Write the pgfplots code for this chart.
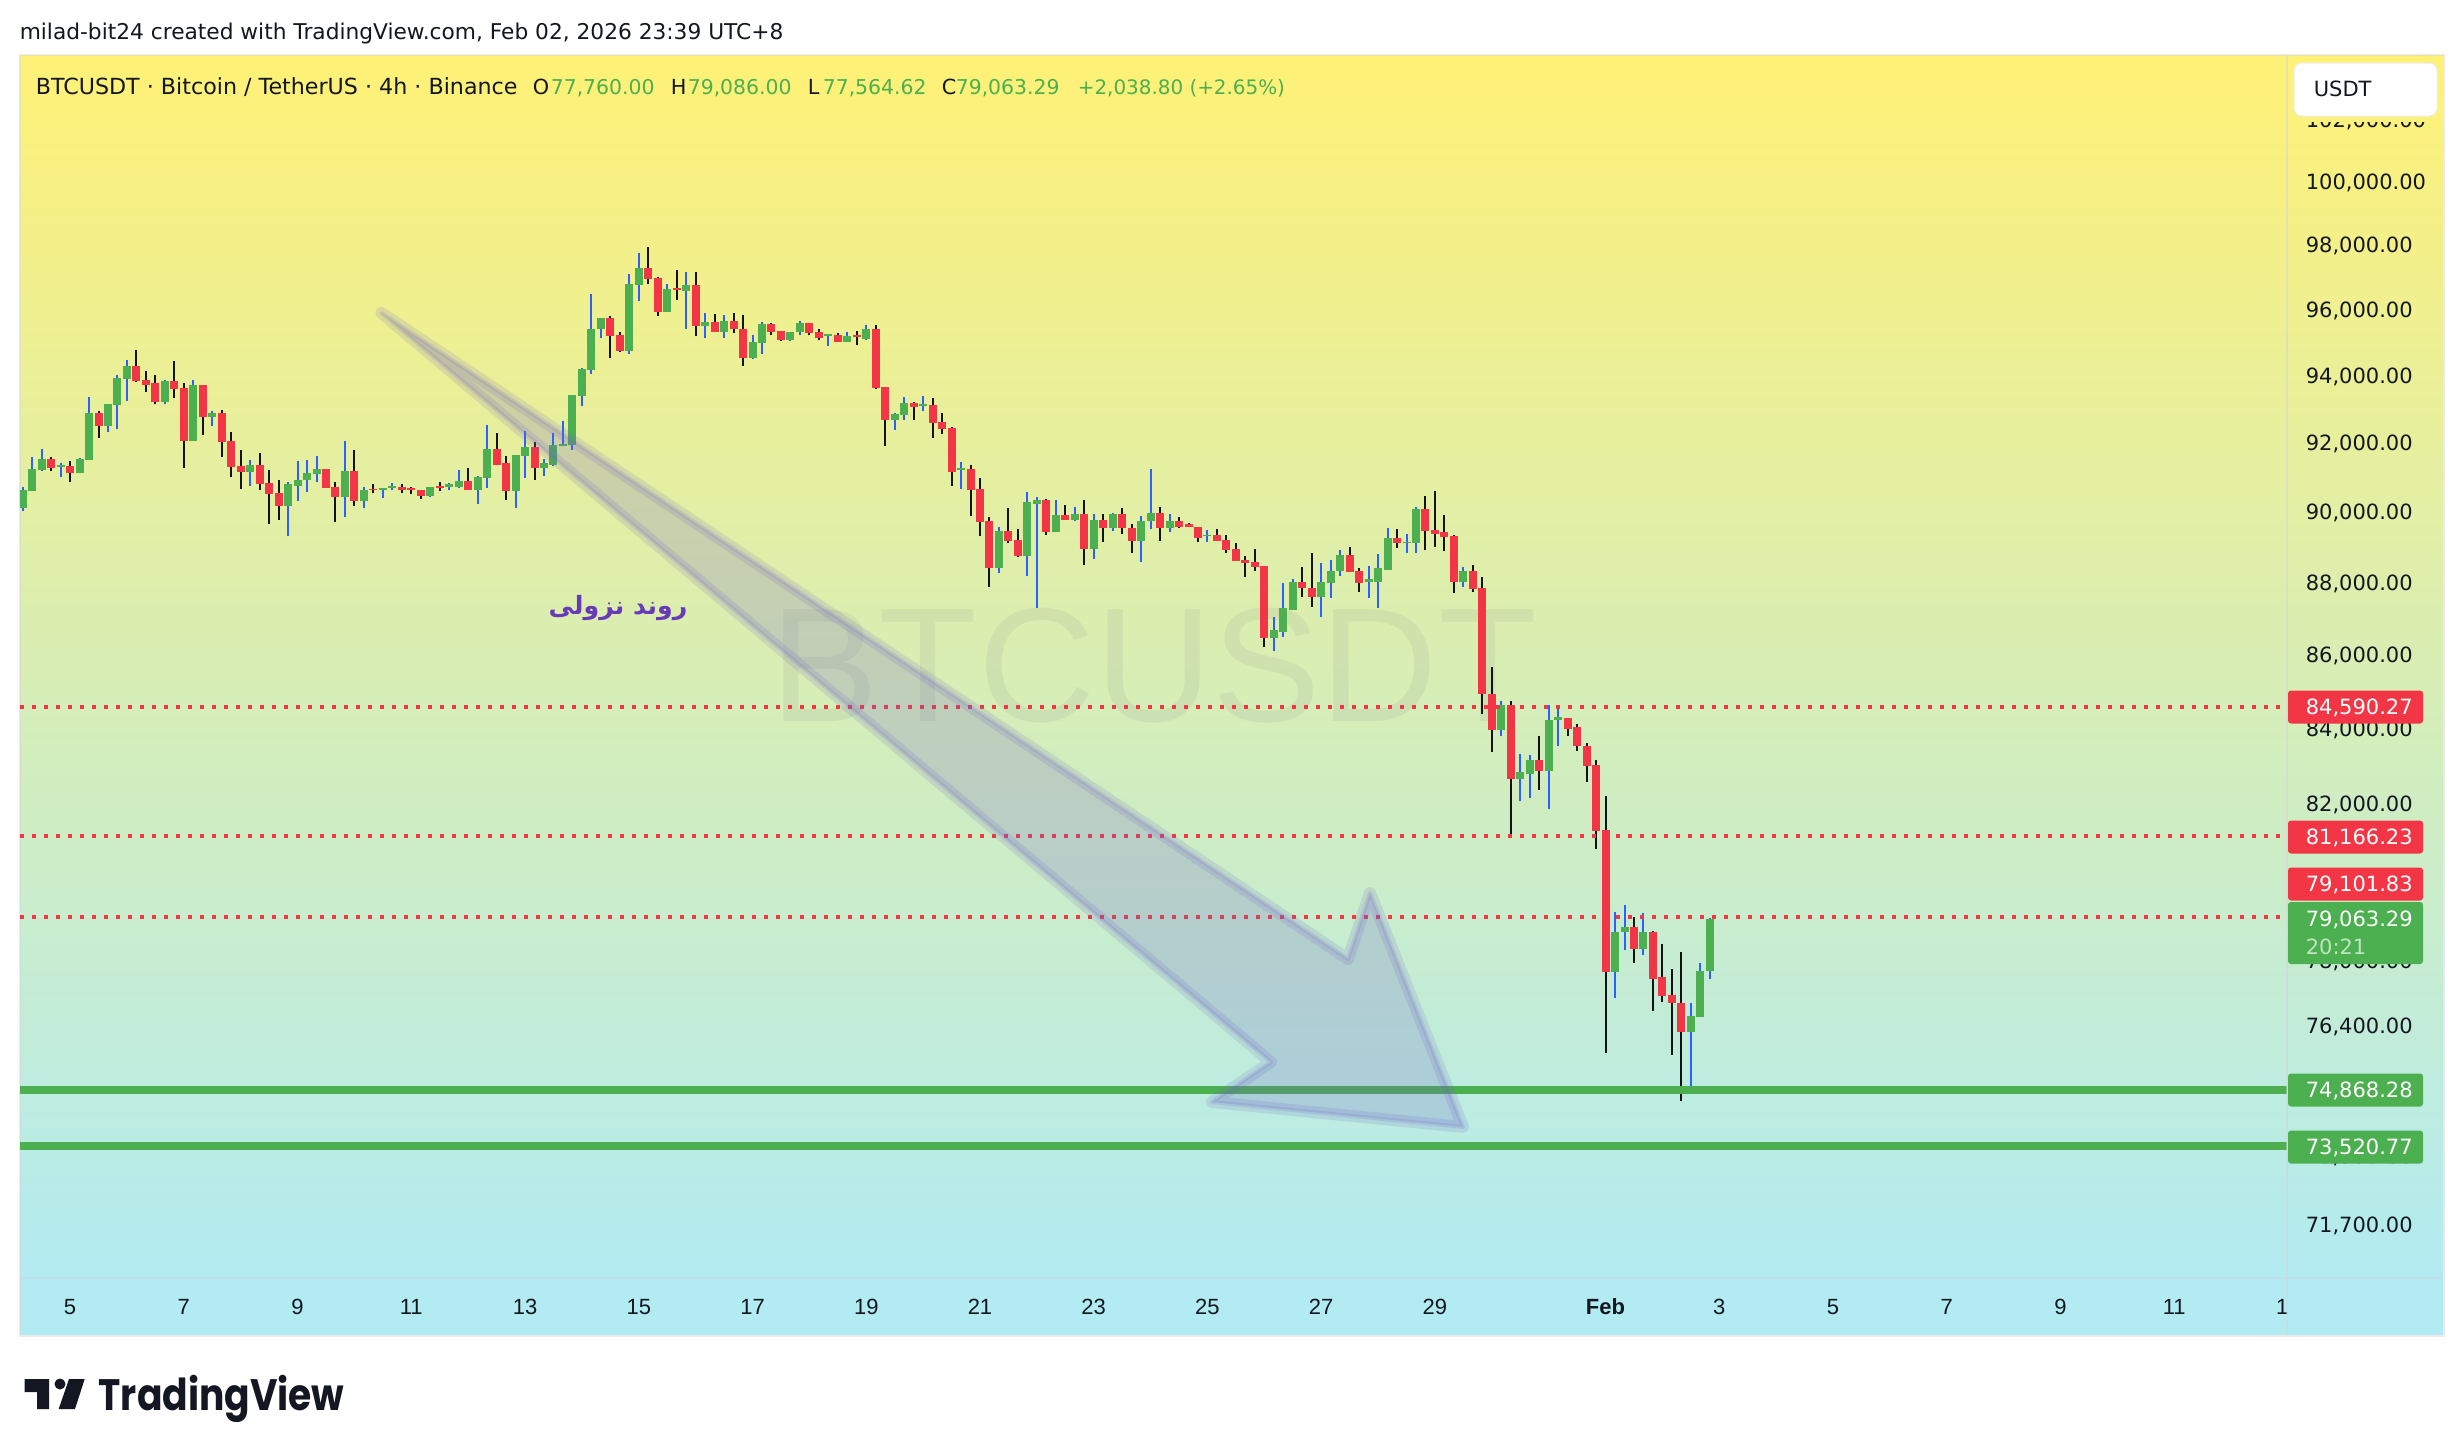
\documentclass[border=0pt]{standalone}
\usepackage{pgfplots}
\usepackage{pgfplotstable}
\usepackage{fontspec}
\pgfplotsset{compat=1.18}
\setmainfont{DejaVu Sans}
\newfontfamily\libfont{Liberation Sans}
\newfontfamily\popfont{Poppins}
\newfontfamily\arabicfont[Script=Arabic]{DejaVu Sans}
\TeXXeTstate=1
\definecolor{tvred}{HTML}{F23645}
\definecolor{tvgreen}{HTML}{4CAF50}
\definecolor{tvblue}{HTML}{2962FF}
\definecolor{tvblack}{HTML}{131313}
\definecolor{tvtext}{HTML}{131722}
\definecolor{gradtop}{HTML}{FFF176}
\definecolor{gradbot}{HTML}{B2EBF2}
\definecolor{arrowc}{RGB}{112,100,200}
\definecolor{wmark}{RGB}{120,123,134}
\definecolor{sep}{HTML}{D1D4DC}
\definecolor{arab}{HTML}{673AB7}
\definecolor{patch}{RGB}{251,241,124}
\pgfplotstableread{
i O H L C
0 90110 90730 90030 90630
1 90600 91610 90600 91240
2 91210 91820 91180 91530
4 91320 91410 91030 91380
6 91120 91580 91120 91530
7 91500 93380 91500 92880
9 92500 93150 92320 93150
10 93120 94010 92410 93950
11 93920 94490 93260 94310
15 93230 93890 93170 93830
18 92080 93860 92080 93740
20 92790 92940 92500 92880
24 91150 91500 90770 91380
28 90190 90860 89310 90800
29 90770 91470 90310 90940
30 90920 91500 90570 91120
31 91090 91640 90860 91240
34 90450 92080 89850 91180
36 90310 90740 90110 90650
38 90650 90710 90420 90710
39 90710 90830 90630 90770
43 90480 90740 90450 90740
45 90740 90830 90630 90800
46 90740 91210 90710 90890
48 90650 91060 90250 91030
49 91000 92530 90710 91820
52 90600 91670 90130 91670
53 91640 92350 91000 91880
55 91270 91550 91060 91410
56 91380 92290 91350 91940
57 91910 92670 91910 91990
58 91960 93440 91790 93440
59 93410 94250 93090 94220
60 94190 96500 94070 95430
61 95400 95740 95130 95740
64 94760 97090 94670 96780
65 96750 97770 96260 97280
68 95950 96780 95950 96630
70 96570 97180 95430 96750
72 95500 95890 95130 95620
74 95340 95830 95130 95650
77 94550 95220 94520 95010
78 94980 95620 94670 95560
81 95070 95340 95040 95340
82 95310 95650 95220 95590
85 95190 95250 94890 95250
87 95010 95310 95010 95190
89 95100 95530 95070 95400
92 92680 92880 92380 92850
93 92820 93380 92700 93200
95 93090 93410 92940 93150
99 91210 91440 90680 91270
103 88400 89590 88260 89450
106 88760 90570 88200 90280
107 90250 90450 87280 90360
109 89420 90360 89420 89910
111 89790 90160 89760 89940
113 88960 89940 88680 89790
115 89540 89990 89450 89940
118 89190 89880 88570 89760
119 89740 91240 89510 89990
121 89560 89960 89420 89760
125 89310 89480 89160 89360
132 86470 87030 86090 86670
133 86640 87980 86500 87280
134 87250 88090 87250 88010
137 87610 88540 87030 88010
138 87980 88650 87560 88340
139 88320 88910 88200 88790
142 88030 88480 87580 88090
143 88030 88820 87300 88400
144 88370 89540 88370 89250
146 89110 89390 88850 89160
147 89110 90160 88850 90080
152 88030 88430 87890 88340
156 83970 84730 83810 84640
158 82650 83330 82070 82830
159 82800 83300 82170 83150
161 82860 84620 81880 84240
162 84240 84540 83540 84300
168 77740 79240 77090 78730
169 78710 79410 78280 78860
171 78310 79210 78160 78730
176 76260 76950 74900 76650
177 76630 77960 76630 77760
178 77760 79086 77564 79063
}\greenbars
\pgfplotstableread{
i O H L C
3 91530 91610 91180 91270
5 91350 91470 90860 91120
8 92880 92940 92170 92500
12 94310 94790 93800 93830
13 93860 94160 93530 93740
14 93770 94010 93150 93230
16 93830 94460 93350 93620
17 93650 93770 91270 92080
19 93740 93740 92230 92790
21 92880 92970 91610 92050
22 92080 92320 91030 91320
23 91350 91790 90680 91150
25 91380 91700 90630 90800
26 90830 91210 89650 90510
27 90540 90920 89790 90190
32 91240 91240 90710 90710
33 90740 90860 89710 90450
35 91180 91790 90190 90310
37 90680 90800 90540 90630
40 90740 90800 90540 90650
41 90710 90740 90510 90650
42 90630 90650 90390 90480
44 90770 90860 90600 90710
47 90890 91290 90650 90650
50 91820 92290 91380 91380
51 91410 91640 90360 90600
54 91880 92050 90940 91270
62 95740 95800 94550 95190
63 95220 95310 94730 94760
66 97280 97930 96780 96940
67 96970 97000 95800 95950
69 96660 97220 96290 96600
71 96750 97180 95190 95500
73 95620 95860 95340 95340
75 95650 95890 95280 95400
76 95430 95830 94310 94550
79 95560 95590 95220 95340
80 95370 95370 95040 95070
83 95590 95590 95220 95280
84 95310 95430 95070 95130
86 95220 95280 95010 95010
88 95220 95370 94920 95160
90 95400 95530 93620 93650
91 93680 93680 91920 92680
94 93200 93230 92700 93060
96 93120 93350 92170 92610
97 92640 92880 92260 92410
98 92440 92470 90770 91150
100 91240 91380 89880 90650
101 90680 90980 89310 89710
102 89740 89850 87890 88400
104 89450 90130 89110 89190
105 89220 89510 88710 88760
108 90360 90390 89360 89420
110 89910 90220 89790 89790
112 89940 90340 88510 88960
114 89790 89960 89140 89540
116 89940 90110 89390 89540
117 89560 89650 88850 89190
120 89990 90160 89190 89560
122 89760 89850 89560 89590
123 89650 89680 89590 89590
124 89590 89590 89160 89250
126 89340 89510 89190 89190
127 89220 89340 88850 88930
128 88960 89110 88620 88620
129 88650 88760 88150 88540
130 88570 88960 88340 88430
131 88460 88460 86200 86470
135 88010 88430 87610 87840
136 87860 88850 87330 87610
140 88790 89020 88290 88290
141 88320 88400 87750 87980
145 89250 89510 88990 89110
148 90080 90480 88910 89450
149 89480 90600 89020 89390
150 89420 89910 88880 89280
151 89310 89360 87700 88030
153 88340 88510 87750 87810
154 87840 88170 84380 84920
155 84940 85650 83380 83970
157 84640 84730 81210 82650
160 83150 83790 82380 82860
163 84270 84270 83810 84000
164 84030 84130 83410 83520
165 83540 83620 82570 82990
166 83020 83150 80820 81290
167 81310 82200 75730 77740
170 78860 79110 77960 78310
172 78730 78760 76750 77560
173 77590 78430 76990 77140
174 77170 77790 75700 76950
175 76970 78230 74600 76260
}\redbars
\newcommand{\sz}[1]{\fontsize{#1}{#1}\selectfont}
\newcommand{\drawbars}[3]{%
  \pgfplotstablegetrowsof{#1}%
  \pgfmathtruncatemacro\nrows{\pgfplotsretval-1}%
  \pgfplotsforeachungrouped \rr in {0,...,\nrows}{%
    \pgfplotstablegetelem{\rr}{i}\of{#1}\edef\vi{\pgfplotsretval}%
    \pgfplotstablegetelem{\rr}{O}\of{#1}\edef\vO{\pgfplotsretval}%
    \pgfplotstablegetelem{\rr}{H}\of{#1}\edef\vH{\pgfplotsretval}%
    \pgfplotstablegetelem{\rr}{L}\of{#1}\edef\vL{\pgfplotsretval}%
    \pgfplotstablegetelem{\rr}{C}\of{#1}\edef\vC{\pgfplotsretval}%
    \edef\tmp{\noexpand\addplot[#2,line width=.5pt,forget plot] coordinates {(\vi,\vL) (\vi,\vH)};
      \noexpand\addplot[#3,line width=2pt,forget plot] coordinates {(\vi,\vO) (\vi,\vC)};}%
    \tmp
  }}
\begin{document}
\begin{tikzpicture}[x=0.25pt,y=-0.25pt]
\path[use as bounding box] (0,0) rectangle (2463,1456);
\fill[white] (0,0) rectangle (2463,1456);
% canvas
\fill[gradbot] (20,1270) rectangle (2443,1335);
\shade[top color=gradtop,bottom color=gradbot] (20,55) rectangle (2443,1278);
\draw[sep,opacity=.45,line width=.5pt] (19.5,54.5) rectangle (2443.5,1335.5);
% watermark
\node[anchor=base,inner sep=0,text=wmark,opacity=.11] at (1154,721) {\libfont\sz{40.6}BTCUSDT};
\begin{axis}[
  at={(5pt,-319.5pt)},anchor=south west,
  scale only axis,width=566.75pt,height=305.75pt,
  xmin=-0.285,xmax=238.9,
  ymode=log,ymin=70505,ymax=104148,
  axis line style={draw=none},
  tick style={draw=none},
  major tick length=0pt,
  ytick={71700,73300,76400,78000,80000,82000,84000,86000,88000,90000,92000,94000,96000,98000,100000,102000},
  yticklabels={{71,700.00},{73,300.00},{76,400.00},{78,000.00},{80,000.00},{82,000.00},{84,000.00},{86,000.00},{88,000.00},{90,000.00},{92,000.00},{94,000.00},{96,000.00},{98,000.00},{100,000.00},{102,000.00}},
  yticklabel pos=right,
  yticklabel style={anchor=base west,inner sep=0pt,xshift=4.5pt,yshift=-1.9pt,font=\sz{5.25},text=tvtext},
  xtick={5,17,29,41,53,65,77,89,101,113,125,137,149,167,179,191,203,215,227,238.4},
  xticklabels={5,7,9,11,13,15,17,19,21,23,25,27,29,\textbf{Feb},3,5,7,9,11,1},
  xticklabel style={anchor=center,inner sep=0pt,yshift=-7.25pt,font=\libfont\sz{5.5},text=tvtext},
]
\drawbars{\greenbars}{tvblue}{tvgreen}
\drawbars{\redbars}{tvblack}{tvred}
\addplot[tvred,line width=1pt,dash pattern=on 1pt off 2pt,forget plot] coordinates {(-0.285,84590.27) (238.9,84590.27)};
\addplot[tvred,line width=1pt,dash pattern=on 1pt off 2pt,forget plot] coordinates {(-0.285,81166.23) (238.9,81166.23)};
\addplot[tvred,line width=1pt,dash pattern=on 1pt off 2pt,forget plot] coordinates {(-0.285,79101.83) (238.9,79101.83)};
\addplot[tvgreen,line width=2pt,forget plot] coordinates {(-0.285,74868.28) (238.9,74868.28)};
\addplot[tvgreen,line width=2pt,forget plot] coordinates {(-0.285,73520.77) (238.9,73520.77)};
\end{axis}
% separators
\draw[sep,opacity=.5,line width=.5pt] (2287,55) -- (2287,1335);
\draw[sep,opacity=.5,line width=.5pt] (20,1278) -- (2443,1278);
% arrow
\def\arrowpath{(381.5,313) -- (1348,959) -- (1370,893) -- (1463,1127) -- (1212,1102) -- (1271,1062) -- cycle}
\fill[arrowc,opacity=.22] \arrowpath;
\draw[arrowc,opacity=.16,line width=3pt,line join=round] \arrowpath;
\draw[arrowc,opacity=.16,line width=1pt,line join=round] \arrowpath;
% arabic
\node[anchor=center,inner sep=0,text=arab] at (618,608) {\arabicfont\bfseries\sz{6.3}\beginR روند نزولی\endR};
% price labels
\newcommand{\plabel}[3]{%
  \fill[#1,rounded corners=.75pt] (2288,#2-16.5) rectangle (2423,#2+16.5);
  \node[anchor=base west,inner sep=0,text=white] at (2305,#2+7.6) {\sz{5.25}#3};}
\plabel{tvred}{707}{84,590.27}
\plabel{tvred}{837}{81,166.23}
\plabel{tvred}{884}{79,101.83}
\fill[tvgreen,rounded corners=.75pt] (2288,902) rectangle (2423,964);
\node[anchor=base west,inner sep=0,text=white] at (2305,926) {\sz{5.25}79,063.29};
\node[anchor=base west,inner sep=0,text=white,text opacity=.65] at (2305,954) {\sz{5.25}20:21};
\plabel{tvgreen}{1090}{74,868.28}
\plabel{tvgreen}{1147}{73,520.77}
% USDT box
\fill[patch] (2289,112) rectangle (2442,121.5);
\draw[fill=white,draw=sep!40,line width=.25pt,rounded corners=2pt] (2294,63) rectangle (2437,116);
\node[anchor=base west,inner sep=0,text=tvtext] at (2313,96) {\sz{5.25}USDT};
% header
\node[anchor=base west,inner sep=0,text=tvtext] at (19,39) {\sz{5.43}milad-bit24 created with TradingView.com, Feb 02, 2026 23:39 UTC+8};
\node[anchor=base west,inner sep=0,text=tvtext] at (35,94) {\sz{5.55}BTCUSDT · Bitcoin / TetherUS · 4h · Binance};
\node[anchor=base west,inner sep=0,text=tvtext] at (532,94) {\sz{5.2}O};
\node[anchor=base west,inner sep=0,text=tvgreen] at (550,94) {\sz{5.1}77,760.00};
\node[anchor=base west,inner sep=0,text=tvtext] at (670,94) {\sz{5.2}H};
\node[anchor=base west,inner sep=0,text=tvgreen] at (687,94) {\sz{5.1}79,086.00};
\node[anchor=base west,inner sep=0,text=tvtext] at (807,94) {\sz{5.2}L};
\node[anchor=base west,inner sep=0,text=tvgreen] at (822,94) {\sz{5.1}77,564.62};
\node[anchor=base west,inner sep=0,text=tvtext] at (941,94) {\sz{5.2}C};
\node[anchor=base west,inner sep=0,text=tvgreen] at (955,94) {\sz{5.1}79,063.29};
\node[anchor=base west,inner sep=0,text=tvgreen] at (1077,94) {\sz{4.98}+2,038.80 (+2.65\%)};
% logo
\fill[tvtext] (24.5,1379) -- (49,1379) -- (49,1409) -- (37,1409) -- (37,1392) -- (24.5,1392) -- cycle;
\fill[tvtext] (60,1384) circle (5.5);
\fill[tvtext] (69,1379) -- (84.7,1379) -- (75,1409) -- (58.7,1409) -- cycle;
\node[anchor=base west,inner sep=0,text=tvtext,xscale=.855] at (98,1410) {\popfont\bfseries\sz{11}TradingView};
\end{tikzpicture}
\end{document}
